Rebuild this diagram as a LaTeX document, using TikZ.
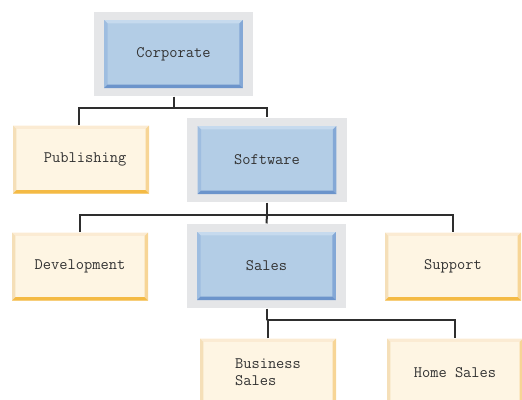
\documentclass[tikz,border=0pt]{standalone}
\usepackage{xcolor}
\usetikzlibrary{positioning,calc,fit,backgrounds}

\definecolor{blueFill}{HTML}{B3CDE6}
\definecolor{blueTop}{HTML}{C6DAEE}
\definecolor{blueLeft}{HTML}{9EBDE0}
\definecolor{blueRight}{HTML}{84A8D6}
\definecolor{blueBot}{HTML}{6C94CB}
\definecolor{paleFill}{HTML}{FEF5E3}
\definecolor{paleTop}{HTML}{FBEBD3}
\definecolor{paleLeft}{HTML}{F5DFB8}
\definecolor{paleRight}{HTML}{F7D596}
\definecolor{paleBot}{HTML}{F4BA44}
\definecolor{frameGray}{HTML}{E5E6E8}
\definecolor{lineGray}{HTML}{2E2E2E}
\definecolor{txtGray}{HTML}{333333}

\def\bw{2.6pt}
\def\ppbb{path picture bounding box}
% top, left, right, bottom
\newcommand\bevel[4]{%
  \fill[#1] (\ppbb.north west) -- (\ppbb.north east) -- ([shift={(-\bw,-\bw)}]\ppbb.north east) -- ([shift={(\bw,-\bw)}]\ppbb.north west) -- cycle;
  \fill[#2] (\ppbb.north west) -- ([shift={(\bw,-\bw)}]\ppbb.north west) -- ([shift={(\bw,\bw)}]\ppbb.south west) -- (\ppbb.south west) -- cycle;
  \fill[#3] (\ppbb.north east) -- ([shift={(-\bw,-\bw)}]\ppbb.north east) -- ([shift={(-\bw,\bw)}]\ppbb.south east) -- (\ppbb.south east) -- cycle;
  \fill[#4] (\ppbb.south west) -- ([shift={(\bw,\bw)}]\ppbb.south west) -- ([shift={(-\bw,\bw)}]\ppbb.south east) -- (\ppbb.south east) -- cycle;
}

\tikzset{
  unit/.style={inner sep=0pt, minimum width=104pt, minimum height=51pt,
    font=\ttfamily\fontsize{12}{12.5}\selectfont, text=txtGray},
  bluebox/.style={unit, fill=blueFill,
    path picture={\bevel{blueTop}{blueLeft}{blueRight}{blueBot}}},
  palebox/.style={unit, minimum width=102pt, fill=paleFill,
    path picture={\bevel{paleTop}{paleLeft}{paleRight}{paleBot}}},
  grayframe/.style={fill=frameGray, inner xsep=7.5pt, inner ysep=6pt},
  link/.style={draw=lineGray, line width=1.5pt}
}

\begin{document}
\begin{tikzpicture}[x=0.75pt,y=-0.75pt]
  \clip (0,0) rectangle (522,400);
  \useasboundingbox (0,0) rectangle (522,400);

  % top level
  \node[bluebox] (corp) at (173.5,54) {Corporate};
  % second level
  \node[palebox] (pub) at (81,159.5) {~Publishing};
  \node[bluebox] (soft) at (267,160) {Software};
  % third level
  \node[palebox] (dev) at (80,266.5) {Development};
  \node[bluebox] (sales) at (266.5,266) {Sales};
  \node[palebox] (supp) at (453,266.5) {Support};
  % bottom level
  \node[palebox, align=left] (bizsales) at (268,372.5) {Business\\Sales};
  \node[palebox] (homesales) at (455,372.5) {Home Sales};

  % gray frames behind the selected boxes
  \begin{scope}[on background layer]
    \node[grayframe, fit=(corp)] (corpF) {};
    \node[grayframe, fit=(soft)] (softF) {};
    \node[grayframe, fit=(sales)] (salesF) {};
  \end{scope}

  % connectors
  \coordinate (j1) at ($(corpF.south)+(0,11)$);
  \draw[link] (corpF.south) -- (j1);
  \draw[link] ([xshift=-1.5pt]pub.north) |- (j1) -| (softF.north);

  \coordinate (j2) at ($(softF.south)+(0,12)$);
  \draw[link] (softF.south) -- (j2);
  \draw[link] (dev.north) |- (j2) -| (supp.north);
  \draw[link] (j2) -- (salesF.north);

  \coordinate (j3) at ($(salesF.south)+(0,11)$);
  \draw[link] (salesF.south) -- (j3);
  \draw[link] (bizsales.north) |- (j3) -| (homesales.north);
\end{tikzpicture}
\end{document}
